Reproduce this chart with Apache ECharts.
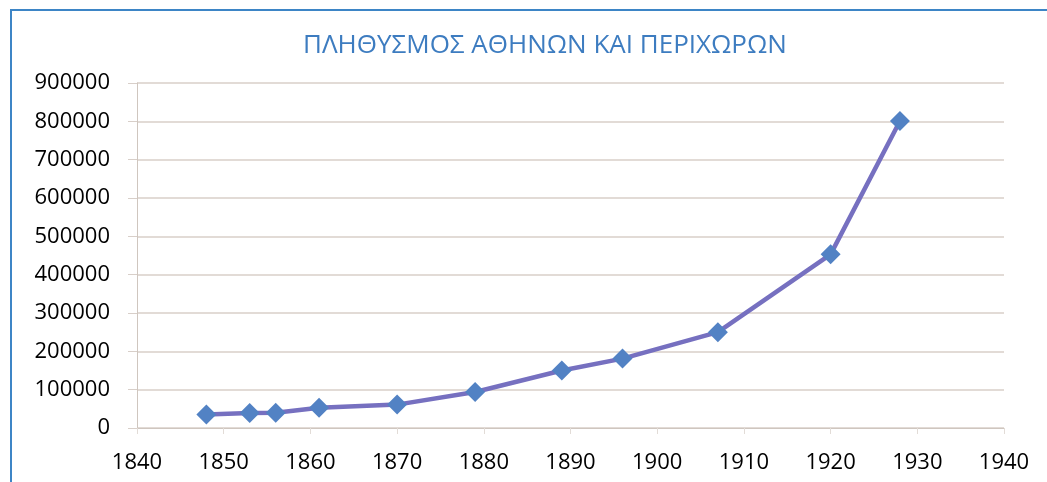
<!DOCTYPE html>
<html>
<head>
<meta charset="utf-8">
<script src="https://cdn.jsdelivr.net/npm/echarts@6/dist/echarts.min.js"></script>
<style>
  html, body { margin: 0; padding: 0; background: #ffffff; }
  #chart { width: 1047px; height: 482px; }
</style>
</head>
<body>
<div id="chart"></div>
<script>
// απογραφές (έτος) και πληθυσμός
const years = [1848, 1853, 1856, 1861, 1870, 1879, 1889, 1896, 1907, 1920, 1928]
const population = [35000, 39000, 40000, 53000, 61000, 94000, 150000, 181000, 250000, 453000, 801000]
const chartTitle = 'ΠΛΗΘΥΣΜΟΣ ΑΘΗΝΩΝ ΚΑΙ ΠΕΡΙΧΩΡΩΝ'

const labelFont = {
  fontFamily: 'Open Sans',
  fontSize: 22,
  color: '#000000',
  formatter: v => String(v)
}

const chart = echarts.init(document.getElementById('chart'))
const option = {
  animation: false,
  backgroundColor: '#ffffff',
  title: {
    text: chartTitle,
    left: 298,
    top: 28,
    textStyle: {
      fontFamily: 'Open Sans',
      fontWeight: 'normal',
      fontSize: 26,
      color: '#3d7cc0'
    }
  },
  graphic: [
    {
      type: 'rect',
      shape: { x: 11, y: 10, width: 1100, height: 600 },
      style: { fill: 'none', stroke: '#3d85c6', lineWidth: 2 },
      silent: true
    }
  ],
  grid: {
    left: 137,
    right: 43,
    top: 83,
    bottom: 54
  },
  xAxis: {
    type: 'value',
    min: 1840,
    max: 1940,
    interval: 10,
    axisLine: { show: true, lineStyle: { color: '#cfc6bf', width: 1 } },
    axisTick: { show: true, length: 6, lineStyle: { color: '#e2dcd7' } },
    splitLine: { show: false },
    axisLabel: Object.assign({ margin: 24 }, labelFont)
  },
  yAxis: {
    type: 'value',
    min: 0,
    max: 900000,
    interval: 100000,
    axisLine: { show: true, lineStyle: { color: '#cfc6bf', width: 1 } },
    axisTick: { show: true, length: 9, lineStyle: { color: '#d8cfc9' } },
    splitLine: { show: true, lineStyle: { color: '#d8cfc9', width: 1.5 } },
    axisLabel: Object.assign({ margin: 27 }, labelFont)
  },
  series: [
    {
      type: 'line',
      data: years.map((y, i) => [y, population[i]]),
      symbol: 'diamond',
      symbolSize: 20,
      showAllSymbol: true,
      lineStyle: { color: '#7670c0', width: 4.5 },
      itemStyle: { color: '#5282c4' }
    }
  ]
}
chart.setOption(option)
</script>
</body>
</html>
